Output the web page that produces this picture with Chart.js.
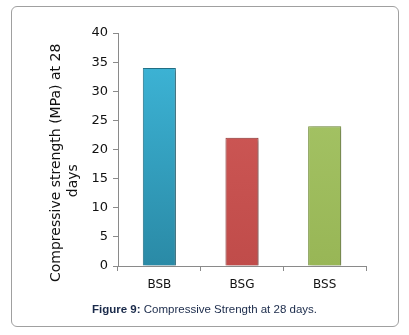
<!DOCTYPE html>
<html>
<head>
<meta charset="utf-8">
<script src="https://cdn.jsdelivr.net/npm/chart.js@4.4.0/dist/chart.umd.min.js"></script>
<style>
  body { margin: 0; background: #fff; }
  #wrap { position: relative; width: 409px; height: 335px; }
  #frame {
    position: absolute; left: 11px; top: 6px; width: 386px; height: 319px;
    border: 1px solid #a0a0a0; border-radius: 6px;
  }
  #cv { position: absolute; left: 0; top: 0; }
  #caption {
    position: absolute; left: 0; top: 303px; width: 409px; text-align: center;
    font-family: "Liberation Sans", Arial, sans-serif; font-size: 11.5px; color: #1a2a4a;
  }
</style>
</head>
<body>
<div id="wrap">
  <div id="frame"></div>
  <canvas id="cv" width="409" height="335"></canvas>
  <div id="caption"><b>Figure 9:</b> Compressive Strength at 28 days.</div>
</div>
<script>
const categories = ['BSB', 'BSG', 'BSS'];
const strength = [34, 22, 24];
const yTicks = [0, 5, 10, 15, 20, 25, 30, 35, 40];

// top / bottom colours of each bar
const topColors = ['#3fb9dc', '#d35c5a', '#a9c86a'];
const bottomColors = ['#2a8aa6', '#c04c4a', '#98b656'];
const edgeColors = ['#24788f', '#9e3d3b', '#7f9a45'];

function barFill(context) {
  const chart = context.chart;
  const area = chart.chartArea;
  const i = context.dataIndex;
  if (!area) return topColors[i];
  const g = chart.ctx.createLinearGradient(0, area.top, 0, area.bottom);
  g.addColorStop(0, topColors[i]);
  g.addColorStop(1, bottomColors[i]);
  return g;
}

const shadowPlugin = {
  id: 'barShadow',
  beforeDatasetsDraw(chart) {
    const c = chart.ctx;
    c.save();
    c.shadowColor = 'rgba(0,0,0,0.35)';
    c.shadowBlur = 4;
    c.shadowOffsetX = 2;
    c.shadowOffsetY = 1;
  },
  afterDatasetsDraw(chart) {
    chart.ctx.restore();
  }
};

const ctx = document.getElementById('cv');
new Chart(ctx, {
  type: 'bar',
  data: {
    labels: categories,
    datasets: [{
      data: strength,
      backgroundColor: barFill,
      borderColor: edgeColors,
      borderWidth: 1,
      barPercentage: 0.8,
      categoryPercentage: 0.5
    }]
  },
  plugins: [shadowPlugin],
  options: {
    responsive: false,
    animation: false,
    layout: { padding: { left: 48, right: 43, top: 33, bottom: 0 } },
    plugins: {
      legend: { display: false },
      tooltip: { enabled: false }
    },
    scales: {
      x: {
        grid: { display: true, drawOnChartArea: false, drawTicks: true, tickLength: 5, color: '#8a8a8a' },
        border: { color: '#8a8a8a' },
        ticks: { color: '#111', font: { family: 'DejaVu Sans', size: 12 }, padding: 7 },
        afterFit(scale) { scale.height = 69; }
      },
      y: {
        min: 0,
        max: 40,
        afterBuildTicks(scale) { scale.ticks = yTicks.map(v => ({ value: v })); },
        grid: { display: true, drawOnChartArea: false, drawTicks: true, tickLength: 5, color: '#8a8a8a' },
        border: { color: '#8a8a8a' },
        ticks: { color: '#111', font: { family: 'DejaVu Sans', size: 13 }, padding: 5 },
        title: {
          display: true,
          // trailing spaces push the lines down, like the original wrap
          text: ['Compressive strength (MPa) at 28      ', 'days              '],
          color: '#111',
          font: { family: 'DejaVu Sans', size: 14 },
          padding: { top: 0, bottom: 0 }
        },
        afterFit(scale) { scale.width = 70; }
      }
    }
  }
});
</script>
</body>
</html>
